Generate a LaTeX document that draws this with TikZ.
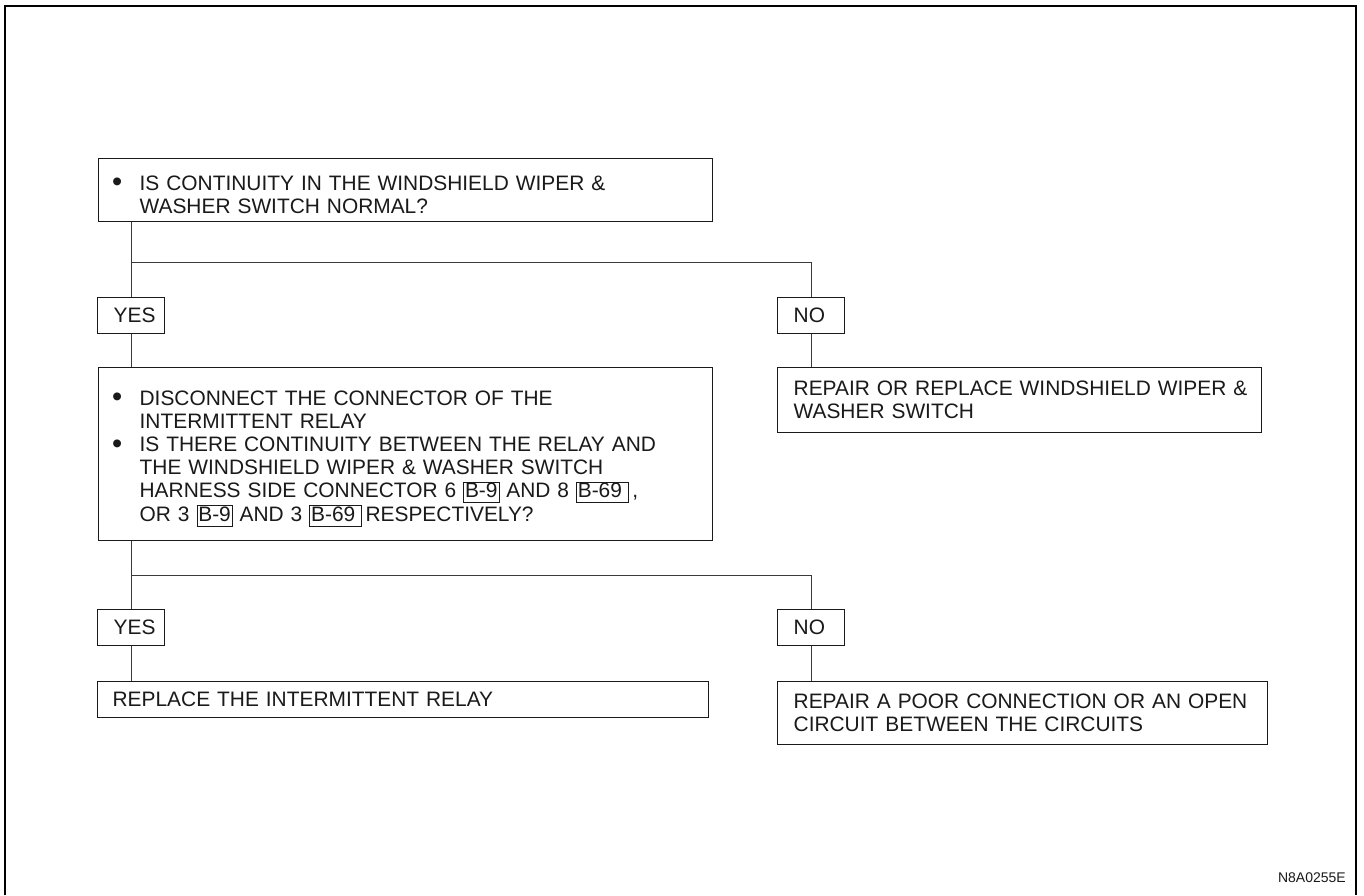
\documentclass[tikz,border=0pt]{standalone}
\usepackage{fontspec}
\setmainfont{Liberation Sans}
\definecolor{ink}{HTML}{1A1A1A}
\definecolor{wire}{HTML}{3A3A3A}
% bulleted paragraph with hanging indent
\newcommand\bulletpar[1]{\par\noindent\hangindent=27pt\hangafter=1\makebox[27pt][l]{\hspace{-0.5pt}\raisebox{-1.6pt}{\fontsize{29}{0}\selectfont\textbullet}}#1\par}
% boxed connector reference
\newcommand\conbox[1]{{\fboxsep=1pt\fboxrule=0.8pt\fbox{\rule[-3.5pt]{0pt}{17.5pt}#1}}}
\begin{document}
\begin{tikzpicture}[x=1pt,y=-1pt,
  box/.style={draw=ink, line width=1.3pt, anchor=north west, align=left,
    inner ysep=0pt, text=ink, font=\fontsize{20.9}{23.2}\selectfont},
  answer/.style={box, minimum width=67pt, minimum height=36pt,
    inner xsep=16pt, text width=35pt},
  wireline/.style={draw=wire, line width=1pt},
  frameline/.style={draw=black, line width=2.2pt}]
\useasboundingbox (0,0) rectangle (1364,895);
\fill[white] (0,0) rectangle (1364,895);

% outer frame
\draw[frameline] (5,895) -- (5,6) -- (1356,6) -- (1356,895);

% first check
\node[box, minimum width=614pt, minimum height=63pt, inner xsep=14pt, text width=586pt] (q1) at (98,158)
  {\bulletpar{IS CONTINUITY IN THE WINDSHIELD WIPER \&\newline WASHER SWITCH NORMAL?}};

\node[answer] (yes1) at (97,297) {\makebox[35pt][l]{YES}};
\node[answer] (no1) at (777,297) {\makebox[35pt][l]{NO}};

% second check
\node[box, minimum width=614pt, minimum height=173pt, inner xsep=14pt, text width=586pt] (q2) at (98,367)
  {\bulletpar{DISCONNECT THE CONNECTOR OF THE\newline INTERMITTENT RELAY}%
   \bulletpar{IS THERE CONTINUITY BETWEEN THE RELAY AND\newline THE WINDSHIELD WIPER \& WASHER SWITCH\newline HARNESS SIDE CONNECTOR 6 \conbox{B-9} AND 8 \conbox{B-69\hspace{5pt}}\,,\newline OR 3 \conbox{B-9} AND 3 \conbox{B-69\hspace{5pt}}\,RESPECTIVELY?}};

\node[box, minimum width=484pt, minimum height=65pt, inner xsep=16pt, text width=452pt] (r1) at (777,367)
  {\makebox[452pt][l]{REPAIR OR REPLACE WINDSHIELD WIPER \&}\newline WASHER SWITCH};

\node[answer] (yes2) at (97,609) {\makebox[35pt][l]{YES}};
\node[answer] (no2) at (777,609) {\makebox[35pt][l]{NO}};

\node[box, minimum width=611pt, minimum height=36pt, inner xsep=15pt, text width=581pt] (r2) at (97,681)
  {REPLACE THE INTERMITTENT RELAY};

\node[box, minimum width=490pt, minimum height=63pt, inner xsep=16pt, text width=458pt] (r3) at (777,681)
  {\makebox[458pt][l]{REPAIR A POOR CONNECTION OR AN OPEN}\newline CIRCUIT BETWEEN THE CIRCUITS};

% branch levels
\coordinate (br1) at (0,262);
\coordinate (br2) at (0,575);

% connectors
\draw[wireline] (q1.south -| yes1.north) -- (yes1.north);
\draw[wireline] (yes1.north |- br1) -| (no1.north);
\draw[wireline] (yes1.south) -- (yes1.south |- q2.north);
\draw[wireline] (no1.south) -- (no1.south |- r1.north);
\draw[wireline] (q2.south -| yes2.north) -- (yes2.north);
\draw[wireline] (yes2.north |- br2) -| (no2.north);
\draw[wireline] (yes2.south) -- (yes2.south |- r2.north);
\draw[wireline] (no2.south) -- (no2.south |- r3.north);

% drawing code
\node[anchor=base east, inner sep=0pt, text=ink, font=\fontsize{14}{16}\selectfont] (code) at (1346,882) {N8A0255E};
\end{tikzpicture}
\end{document}
